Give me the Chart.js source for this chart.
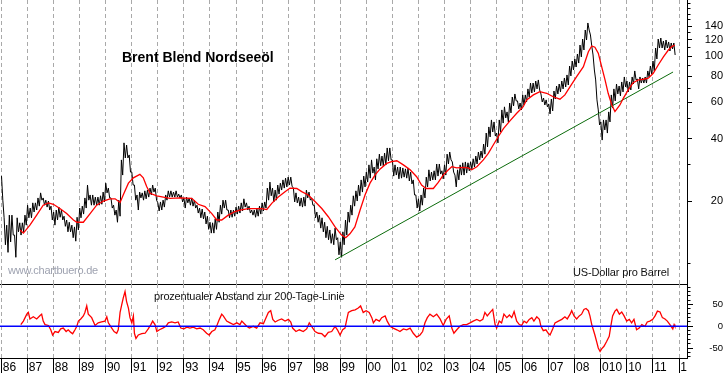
<!DOCTYPE html>
<html><head><meta charset="utf-8">
<script src="https://cdn.jsdelivr.net/npm/chart.js@4.4.0/dist/chart.umd.min.js"></script>
<style>
html,body{margin:0;padding:0;background:#fff;}
#wrap{position:relative;width:723px;height:373px;overflow:hidden;background:#fff;}
canvas{position:absolute;left:0;}
#cMain{top:0;width:723px;height:285px;}
#cDev{top:284px;width:723px;height:89px;}
.lbl{position:absolute;white-space:nowrap;font-family:'Liberation Sans',Arial,sans-serif;line-height:1;}
</style></head><body>
<div id="wrap">
<canvas id="cMain" width="723" height="285"></canvas>
<canvas id="cDev" width="723" height="89"></canvas>
<div class="lbl" style="left:122px;top:50px;font-size:14px;font-weight:bold;color:#000;">Brent Blend Nordseeöl</div>
<div class="lbl" style="left:8px;top:265px;font-size:11px;letter-spacing:-0.25px;color:#9ea2b0;">www.chartbuero.de</div>
<div class="lbl" style="left:573px;top:266.7px;font-size:11px;letter-spacing:-0.15px;color:#111;">US-Dollar pro Barrel</div>
<div class="lbl" style="left:154px;top:291.2px;font-size:11px;letter-spacing:-0.2px;color:#111;">prozentualer Abstand zur 200-Tage-Linie</div>
</div>
<script>
// ---- data ----
const PRICE_START = 1986.0;   // first sample (decimal year)
const PRICE_STEP = 0.1;       // sampling interval in years
const priceHigh = [
26.4,16.6,15.3,17.1,17.1,13.7,16.6,15.7,15.7,17.1,
19.1,18.5,19.6,19.6,20.7,21.9,20.7,20.2,20.0,18.9,
17.7,18.1,18.7,18.1,16.9,16.2,15.8,15.3,15.0,16.7,
18.5,18.9,20.7,23.9,21.4,21.4,20.9,20.9,21.2,22.1,
24.4,23.1,20.7,19.1,18.1,20.2,31.6,38.2,37.3,33.4,
27.6,23.9,21.4,22.1,21.9,22.4,22.6,23.1,23.9,23.1,
19.6,19.8,20.2,21.4,22.4,22.4,22.1,22.4,21.6,21.4,
20.7,20.9,20.7,20.7,20.2,19.1,18.5,18.3,17.7,16.9,
15.8,15.7,16.4,17.7,19.1,20.2,20.2,18.1,18.1,18.1,
18.7,18.9,19.6,20.5,19.6,18.9,18.1,18.1,18.3,18.9,
19.6,19.8,23.1,24.7,23.1,22.6,23.9,24.4,25.3,25.8,
26.1,26.1,23.1,21.9,20.9,20.7,20.9,22.6,22.1,20.7,
19.1,17.7,17.1,16.6,15.8,15.1,14.5,13.9,14.8,13.3,
12.7,14.2,16.2,17.7,19.1,21.2,22.4,23.9,25.3,26.4,
27.6,29.9,31.6,29.2,32.0,33.7,33.0,34.1,36.1,36.1,
31.6,29.9,29.2,29.2,28.9,28.6,28.9,27.6,25.3,21.4,
20.5,21.4,23.1,26.1,28.3,27.6,28.0,30.2,30.2,28.0,
29.9,33.7,34.5,30.9,26.7,28.3,29.9,30.6,30.9,30.6,
30.9,32.0,33.0,34.5,34.9,37.7,42.6,45.6,49.3,48.2,
42.6,49.3,55.1,57.0,53.9,59.5,63.6,65.8,60.9,59.5,
65.1,65.1,69.6,74.3,74.3,76.0,76.9,65.8,62.9,61.6,
58.9,62.2,68.0,71.9,73.5,76.0,78.6,81.3,89.8,94.9,
97.1,102.6,113.4,121.2,134.0,144.9,126.8,101.5,76.9,55.1,
48.2,49.3,49.3,53.9,65.1,69.6,73.5,71.9,75.2,79.5,
76.0,75.2,79.5,85.0,77.7,79.5,78.6,79.5,85.0,89.8,
94.9,109.7,121.2,122.6,118.6,119.9,117.3,116.0,116.0
];
const priceLow = [
20.2,12.3,11.3,12.7,13.7,10.7,14.2,13.7,14.2,15.3,
16.6,16.6,17.7,18.1,18.9,20.2,19.1,18.7,18.1,16.2,
15.3,16.2,16.7,16.2,15.1,14.2,14.2,13.3,12.8,14.5,
16.6,17.3,18.5,20.2,19.1,19.1,19.1,19.1,19.3,19.8,
21.9,20.7,18.5,17.1,15.8,16.9,26.7,32.3,32.3,27.6,
23.9,20.2,18.1,20.7,20.2,20.5,20.9,21.4,22.1,20.2,
17.9,18.1,18.7,20.2,20.9,20.9,20.9,20.9,20.7,19.8,
18.5,19.6,19.1,18.9,18.5,17.5,16.6,16.4,15.5,14.6,
14.0,14.0,14.6,15.8,17.3,18.5,18.1,16.6,16.7,16.9,
17.3,17.5,17.9,18.7,18.1,17.5,17.1,16.7,16.9,17.3,
17.9,18.5,20.2,21.2,19.8,20.2,21.6,22.6,23.1,23.4,
23.9,23.6,19.8,19.6,18.9,18.7,18.9,20.7,20.2,19.1,
16.6,15.8,14.8,14.2,13.3,13.0,12.5,12.3,13.0,11.0,
10.7,12.3,13.7,15.8,17.1,18.9,20.0,21.2,22.1,23.4,
24.7,25.8,27.3,25.3,28.6,29.6,29.6,29.9,31.3,31.6,
26.4,26.7,25.6,25.8,26.1,25.8,25.0,24.2,21.4,18.5,
17.9,19.1,20.7,23.4,25.0,25.3,25.3,26.4,27.0,25.6,
26.7,30.2,31.6,27.6,23.4,25.3,26.7,26.7,27.3,28.0,
28.6,29.2,30.2,31.6,32.3,33.7,36.5,40.8,43.1,41.2,
38.2,43.1,47.6,50.4,48.2,53.3,57.6,60.9,55.7,55.1,
58.2,60.2,63.6,66.5,67.3,69.6,68.8,60.2,58.2,57.0,
52.7,54.5,62.2,65.8,67.3,69.6,71.1,72.7,80.4,85.9,
88.8,92.8,99.3,107.3,119.9,134.0,112.2,85.9,61.6,46.6,
39.4,44.1,42.6,48.2,56.3,60.9,65.8,64.4,67.3,71.1,
67.3,68.8,73.5,76.9,69.6,74.3,74.3,74.3,79.5,82.2,
85.0,97.1,109.7,109.7,107.3,109.7,106.1,108.5,101.5
];
const maYears = [1986.71,1986.84,1987.09,1987.35,1987.60,1987.80,1987.99,1988.24,1988.50,1988.76,1988.89,1989.14,1989.40,1989.65,1989.91,1990.16,1990.36,1990.55,1990.67,1990.87,1991.06,1991.31,1991.44,1991.57,1991.70,1991.96,1992.21,1992.47,1992.85,1993.30,1993.55,1993.81,1994.07,1994.26,1994.45,1994.70,1994.96,1995.15,1995.47,1995.98,1996.18,1996.37,1996.62,1996.88,1997.07,1997.33,1997.52,1997.77,1998.03,1998.29,1998.54,1998.80,1999.05,1999.21,1999.37,1999.56,1999.76,1999.95,2000.14,2000.33,2000.52,2000.78,2000.97,2001.17,2001.42,2001.68,2001.93,2002.12,2002.29,2002.57,2002.76,2002.95,2003.15,2003.28,2003.47,2003.72,2003.91,2004.04,2004.24,2004.49,2004.68,2004.87,2005.06,2005.26,2005.51,2005.77,2006.02,2006.15,2006.41,2006.66,2006.92,2007.17,2007.43,2007.62,2007.82,2008.07,2008.33,2008.52,2008.65,2008.77,2008.90,2009.03,2009.16,2009.28,2009.42,2009.54,2009.73,2009.86,2010.05,2010.24,2010.44,2010.63,2010.82,2011.01,2011.20,2011.40,2011.59,2011.72,2011.84];
const maValues = [14.5,14.0,15.3,17.1,19.1,19.6,19.3,18.4,17.4,16.2,15.8,15.8,17.4,19.1,20.0,20.5,20.5,19.7,21.4,24.4,25.9,26.9,25.9,23.5,21.8,21.2,20.9,20.6,20.7,20.6,19.3,18.8,17.4,16.2,16.2,17.1,17.8,18.1,18.4,18.4,18.2,19.5,20.9,22.2,23.1,23.0,22.2,21.4,19.9,18.4,16.8,15.0,13.7,13.3,13.9,15.0,18.1,21.4,24.4,26.7,28.5,30.4,31.0,31.3,29.9,28.3,26.2,23.9,23.0,23.0,24.6,26.7,28.3,29.3,28.9,29.1,28.9,28.3,29.3,31.6,34.0,37.3,40.9,44.8,48.8,53.1,57.1,61.6,65.1,67.5,66.3,63.8,62.1,65.1,71.4,79.8,89.1,105.3,112.2,110.6,103.6,89.1,76.9,66.3,58.2,54.1,58.2,62.7,68.8,74.6,76.9,77.5,78.4,82.8,90.8,99.5,107.3,111.4,113.4];
const trendYears = [1998.80, 2011.77];
const trendValues = [10.4, 84.0];
const devYears = [1986.74,1986.84,1986.97,1987.03,1987.09,1987.22,1987.35,1987.48,1987.54,1987.60,1987.67,1987.80,1987.89,1987.96,1988.05,1988.18,1988.27,1988.37,1988.48,1988.56,1988.66,1988.73,1988.82,1988.89,1988.95,1989.04,1989.14,1989.20,1989.27,1989.33,1989.46,1989.59,1989.71,1989.84,1989.97,1990.04,1990.10,1990.23,1990.32,1990.42,1990.48,1990.55,1990.61,1990.67,1990.74,1990.80,1990.87,1990.93,1991.00,1991.06,1991.10,1991.16,1991.25,1991.38,1991.51,1991.63,1991.73,1991.80,1991.89,1991.96,1992.06,1992.19,1992.31,1992.40,1992.53,1992.66,1992.78,1992.88,1993.00,1993.11,1993.23,1993.36,1993.49,1993.62,1993.74,1993.87,1993.97,1994.07,1994.19,1994.28,1994.36,1994.45,1994.51,1994.64,1994.77,1994.90,1995.03,1995.15,
1995.22,1995.41,1995.51,1995.66,1995.79,1995.92,1996.05,1996.15,1996.24,1996.33,1996.41,1996.50,1996.62,1996.75,1996.88,1997.01,1997.10,1997.17,1997.30,1997.43,1997.58,1997.71,1997.81,1997.90,1998.03,1998.16,1998.29,1998.41,1998.54,1998.67,1998.80,1998.89,1998.99,1999.09,1999.18,1999.25,1999.31,1999.44,1999.57,1999.69,1999.78,1999.88,1999.99,2000.11,2000.21,2000.27,2000.37,2000.50,2000.59,2000.72,2000.80,2000.91,2001.03,2001.17,2001.29,2001.42,2001.55,2001.68,2001.80,2001.93,2002.06,2002.16,2002.25,2002.34,2002.44,2002.57,2002.70,2002.83,2002.95,2003.06,2003.18,2003.28,2003.36,2003.47,2003.59,2003.72,2003.85,2003.98,2004.10,2004.24,2004.36,
2004.47,2004.55,2004.64,2004.75,2004.85,2004.94,2005.00,2005.10,2005.19,2005.28,2005.39,2005.49,2005.58,2005.67,2005.77,2005.87,2005.96,2006.05,2006.15,2006.25,2006.35,2006.43,2006.54,2006.64,2006.70,2006.79,2006.89,2006.98,2007.05,2007.15,2007.24,2007.37,2007.50,2007.62,2007.71,2007.82,2007.88,2007.97,2008.07,2008.17,2008.26,2008.35,2008.43,2008.52,2008.58,2008.65,2008.71,2008.77,2008.84,2008.90,2008.97,2009.03,2009.12,2009.22,2009.32,2009.38,2009.45,2009.54,2009.61,2009.71,2009.80,2009.89,2009.99,2010.09,2010.18,2010.27,2010.37,2010.47,2010.57,2010.69,2010.78,2010.88,2010.99,2011.08,2011.17,2011.27,2011.36,2011.46,2011.55,2011.65,2011.76,2011.81,2011.84];
const devValues = [4,12,28,32,17,22,17,25,28,12,4,2,-8,-20,-12,-14,-6,-4,-12,-8,-14,-17,-8,0,12,17,24,32,47,28,20,2,8,10,12,22,8,-4,-12,-16,-8,32,49,65,80,57,42,20,8,24,-16,-28,-20,-17,-16,-6,4,12,4,-12,-8,-4,0,8,10,8,10,-4,-6,-2,-4,-2,-6,-4,-8,-16,-20,-12,-8,4,16,28,24,12,8,4,8,4,
12,0,-4,0,-4,8,6,20,32,36,16,10,14,17,12,16,10,-4,-12,-8,-12,-6,8,0,-12,-16,-17,-24,-14,-12,0,-8,-20,-8,-4,16,32,36,38,42,47,32,36,32,20,8,16,12,20,24,12,0,-4,-8,-12,-6,-8,-4,-16,-25,-20,-12,8,20,28,22,28,17,2,16,24,-4,-16,-8,0,4,4,8,12,16,12,
16,32,24,32,39,4,-4,12,8,28,20,26,20,34,12,4,2,12,8,16,20,12,22,16,0,-10,-8,-16,-20,-6,8,12,16,22,17,28,36,24,17,24,28,39,41,36,24,4,-8,-20,-36,-50,-58,-52,-46,-35,-23,0,24,35,39,28,33,24,12,16,8,16,-8,-4,4,0,10,12,16,24,35,33,20,17,12,4,-6,4,0];
const zeroLineValues = [0, 0];
const yearTicks = [1986,1987,1988,1989,1990,1991,1992,1993,1994,1995,1996,1997,1998,1999,2000,2001,2002,2003,2004,2005,2006,2007,2008,2009,2010,2011,2012];
const yearLabels = ['86','87','88','89','90','91','92','93','94','95','96','97','98','99','00','01','02','03','04','05','06','07','08','010','10','11','1'];
const priceTickValues = [10,20,30,40,50,60,70,80,90,100,110,120,130,140,150,160,170,180];
const priceTickLabels = [20,40,60,80,100,120,140];
const devTickValues = [-70,-60,-50,-40,-30,-20,-10,0,10,20,30,40,50,60,70,80,90];
const devTickLabels = [-50,0,50];

// ---- axis ranges ----
const X_MIN = 1985.942, X_MAX = 2012.305;
const Y_MIN = 7.95, Y_MAX = 187.1;
const DEV_MIN = -73.0, DEV_MAX = 97.5;

const FONT = "'Liberation Sans', Arial, sans-serif";
const GRID = '#a9a9a9';

const priceSeries = [];
for (let i = 0; i < Math.min(priceHigh.length, priceLow.length); i++) {
  const t = PRICE_START + i * PRICE_STEP;
  priceSeries.push({x: t, y: priceHigh[i]}, {x: t + PRICE_STEP / 2, y: priceLow[i]});
}
const maSeries = maYears.map((t, i) => ({x: t, y: maValues[i]}));
const trendSeries = trendYears.map((t, i) => ({x: t, y: trendValues[i]}));
const devSeries = devYears.map((t, i) => ({x: t, y: devValues[i]}));
const zeroSeries = [{x: X_MIN, y: zeroLineValues[0]}, {x: X_MAX, y: zeroLineValues[1]}];

const zeroPad = s => { s.paddingLeft = 0; s.paddingRight = 0; s.paddingTop = 0; s.paddingBottom = 0; };
const baseOpts = {
  responsive: false, animation: false, devicePixelRatio: 1, events: [],
  layout: {padding: 0, autoPadding: false},
  plugins: {legend: {display: false}, tooltip: {enabled: false}, title: {display: false}},
  elements: {point: {radius: 0}, line: {tension: 0}}
};

new Chart(document.getElementById('cMain'), {
  type: 'line',
  data: {datasets: [
    {label: 'Brent', data: priceSeries, borderColor: '#000', borderWidth: 1, pointRadius: 0, order: 3},
    {label: 'Trend', data: trendSeries, borderColor: '#0b6b0b', borderWidth: 1, pointRadius: 0, order: 2},
    {label: '200-Tage-Linie', data: maSeries, borderColor: '#ff0000', borderWidth: 1.3, pointRadius: 0, order: 1}
  ]},
  options: Object.assign({}, baseOpts, {
    scales: {
      x: {type: 'linear', min: X_MIN, max: X_MAX, bounds: 'data',
        afterBuildTicks: s => { s.ticks = yearTicks.map(v => ({value: v})); },
        afterFit: s => { s.height = 1; zeroPad(s); },
        ticks: {display: false},
        grid: {color: GRID, lineWidth: 1, drawTicks: false},
        border: {display: true, color: '#000', width: 1, dash: [4, 3]}},
      y: {type: 'logarithmic', position: 'right', min: Y_MIN, max: Y_MAX, bounds: 'data',
        afterBuildTicks: s => { s.ticks = priceTickValues.map(v => ({value: v})); },
        afterFit: s => { s.width = 36; zeroPad(s); },
        ticks: {autoSkip: false, callback: v => priceTickLabels.includes(v) ? String(v) : '',
          font: {family: FONT, size: 11}, color: '#000', padding: 9.6, crossAlign: 'far'},
        grid: {drawOnChartArea: false, drawTicks: true, tickLength: 5, tickColor: '#000',
          tickBorderDash: c => (c.tick && priceTickLabels.includes(c.tick.value)) ? [] : [2.5, 40]},
        border: {display: true, color: '#000', width: 1}}
    }
  })
});

new Chart(document.getElementById('cDev'), {
  type: 'line',
  data: {datasets: [
    {label: 'Null', data: zeroSeries, borderColor: '#0000ff', borderWidth: 1.5, pointRadius: 0, order: 0},
    {label: 'Abstand', data: devSeries, borderColor: '#ff0000', borderWidth: 1.3, pointRadius: 0, order: 1}
  ]},
  options: Object.assign({}, baseOpts, {
    scales: {
      x: {type: 'linear', min: X_MIN, max: X_MAX, bounds: 'data',
        afterBuildTicks: s => { s.ticks = yearTicks.map(v => ({value: v})); },
        afterFit: s => { s.height = 15; zeroPad(s); },
        ticks: {autoSkip: false, maxRotation: 0, minRotation: 0, align: 'start', labelOffset: 1.2,
          padding: -12.9, callback: (v, i) => yearLabels[i], font: {family: FONT, size: 12}, color: '#000'},
        grid: {color: GRID, lineWidth: 1, drawTicks: true, tickLength: 15, tickColor: '#000', tickWidth: 1, tickBorderDash: []},
        border: {display: true, color: '#000', width: 1, dash: [4, 3]}},
      y: {type: 'linear', position: 'right', min: DEV_MIN, max: DEV_MAX, bounds: 'data',
        afterBuildTicks: s => { s.ticks = devTickValues.map(v => ({value: v})); },
        afterFit: s => { s.width = 36; zeroPad(s); },
        ticks: {autoSkip: false, callback: v => devTickLabels.includes(v) ? String(v) : '',
          font: {family: FONT, size: 9.5}, color: '#000', padding: 13.3, crossAlign: 'far'},
        grid: {drawOnChartArea: false, drawTicks: true, tickLength: 6, tickColor: '#000',
          tickBorderDash: c => (c.tick && devTickLabels.includes(c.tick.value)) ? [] : [2.5, 40]},
        border: {display: true, color: '#000', width: 1}}
    }
  })
});
</script>
</body></html>
